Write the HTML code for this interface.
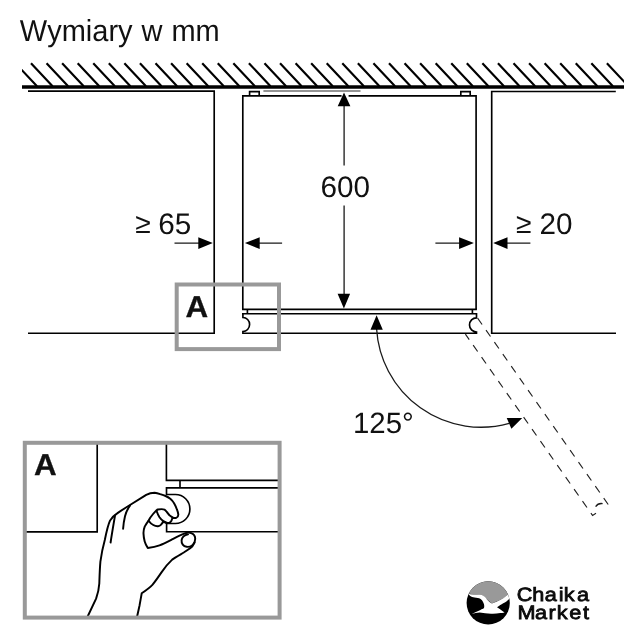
<!DOCTYPE html>
<html lang="pl"><head><meta charset="utf-8"><title>Wymiary w mm</title>
<style>
html,body{margin:0;padding:0;background:#fff;}
body{width:644px;height:640px;overflow:hidden;font-family:"Liberation Sans",sans-serif;}
svg{display:block;will-change:transform;}
text{font-family:"Liberation Sans",sans-serif;fill:#111;text-rendering:geometricPrecision;}
.k{stroke:#000;fill:none;stroke-width:1.65;stroke-linecap:butt;stroke-linejoin:miter;}
.t{stroke:#1a1a1a;fill:none;stroke-width:1.3;}
.d{stroke:#222;fill:none;stroke-width:1.15;stroke-dasharray:7.8 6.85;}
.g{stroke:#999;fill:none;stroke-width:4;}
.h{stroke:#000;fill:none;stroke-width:1.95;stroke-linecap:round;stroke-linejoin:round;}
</style></head><body>
<svg width="644" height="640" viewBox="0 0 644 640">
<rect width="644" height="640" fill="#fff"/>
<text transform="translate(19.8,41) scale(1,1.045)" font-size="29" word-spacing="0.9" style="font-kerning:none">Wymiary w mm</text>

<!-- wall hatch -->
<clipPath id="hc"><rect x="22" y="55" width="602" height="40"/></clipPath>
<path d="M15.44 63.2L37.04 86.3M31.00 63.2L52.60 86.3M46.56 63.2L68.16 86.3M62.13 63.2L83.73 86.3M77.69 63.2L99.29 86.3M93.26 63.2L114.86 86.3M108.83 63.2L130.43 86.3M124.39 63.2L145.99 86.3M139.95 63.2L161.55 86.3M155.52 63.2L177.12 86.3M171.09 63.2L192.69 86.3M186.65 63.2L208.25 86.3M202.22 63.2L223.81 86.3M217.78 63.2L239.38 86.3M233.34 63.2L254.94 86.3M248.91 63.2L270.51 86.3M264.48 63.2L286.08 86.3M280.04 63.2L301.64 86.3M295.61 63.2L317.21 86.3M311.17 63.2L332.77 86.3M326.74 63.2L348.34 86.3M342.30 63.2L363.90 86.3M357.87 63.2L379.47 86.3M373.43 63.2L395.03 86.3M389.00 63.2L410.60 86.3M404.56 63.2L426.16 86.3M420.12 63.2L441.73 86.3M435.69 63.2L457.29 86.3M451.25 63.2L472.86 86.3M466.82 63.2L488.42 86.3M482.38 63.2L503.99 86.3M497.95 63.2L519.55 86.3M513.51 63.2L535.12 86.3M529.08 63.2L550.68 86.3M544.64 63.2L566.25 86.3M560.21 63.2L581.81 86.3M575.77 63.2L597.38 86.3M591.34 63.2L612.94 86.3M606.90 63.2L628.50 86.3" stroke="#000" stroke-width="2.15" fill="none" clip-path="url(#hc)"/>
<path d="M22 87H624" stroke="#000" stroke-width="3.3" fill="none"/>

<!-- left cabinet -->
<path class="k" d="M28 91.1H214.2V333.2H28"/>
<!-- right cabinet -->
<path class="k" d="M615.8 91.5H491.7V333.2H616"/>
<!-- grey wall line behind fridge -->
<path d="M263.4 91H360.5" stroke="#707070" stroke-width="1.5" fill="none"/>

<!-- fridge body -->
<path class="k" d="M242.8 309.4V95.9H341.6M348.6 95.9H476.1V309.4"/>
<path class="k" d="M249.6 95.9V91.6H259.2V95.9M460.8 95.9V91.6H470.2V95.9" stroke-width="1.5"/>
<path class="k" d="M242 309.4H476.9"/>
<path class="k" d="M247.4 309.4V313.8M472.4 309.4V313.8" stroke-width="1.4"/>
<!-- door -->
<path class="k" d="M242.1 313.7H476.6" stroke-width="1.9"/>
<path class="k" stroke-linejoin="round" d="M242.9 313V317.5A6.7 7 0 0 1 242.9 331.5V333.2H476.5V332A7 7.1 0 0 1 476.5 317.8V313"/>

<!-- 600 dimension -->
<path class="t" d="M344.1 104V165.5M344.1 205.6V296"/>
<path d="M344 92.6L350.4 106.2H337.7Z M343.9 308.4L337.6 293.8H350.1Z" fill="#000"/>
<text x="320.4" y="197" font-size="29.7">600</text>

<!-- >=65 dimension -->
<path class="t" d="M174.5 243.1H200M258 243.1H282.1"/>
<path d="M212.8 243.1L198.3 237.2V249Z M244.9 243.1L259.7 237.2V249Z" fill="#000"/>
<text font-size="29.7"><tspan x="135.15" y="233" font-size="28.2">≥</tspan> <tspan x="158.2" y="234">65</tspan></text>

<!-- >=20 dimension -->
<path class="t" d="M435.4 243.1H461M506 243.1H530.4"/>
<path d="M473.9 243.1L459.1 237.2V249Z M493.2 243.1L507.5 237.2V249Z" fill="#000"/>
<text font-size="29.7"><tspan x="515.95" y="233" font-size="28.2">≥</tspan> <tspan x="539.4" y="234">20</tspan></text>

<!-- opened door (dashed) -->
<path class="d" d="M608.2 504.5L477.5 318"/>
<path class="d" stroke-dashoffset="0.8" d="M596 513.3L592.6 515.5L465.4 334.1"/>
<path class="t" d="M595.6 506.6C597.2 504.2 600 503.2 602.6 503.6" stroke-width="1.15"/>

<!-- 125 arc -->
<path class="t" d="M376.6 329A104.7 104.7 0 0 0 509.2 423.4"/>
<path d="M376.6 315.2L370.5 329.7H382.8Z M522.2 418.1L506.7 418.1L511.4 428.7Z" fill="#000"/>
<text x="353" y="433" font-size="29.4">125°</text>

<!-- detail marker A -->
<rect class="g" x="176.7" y="284.5" width="102.3" height="64.6" stroke-width="3.6"/>
<text transform="translate(185.4,317) scale(1.04,1)" font-size="30.2" font-weight="bold" stroke="#111" stroke-width="0.3">A</text>

<!-- inset -->
<g>
<path class="k" stroke-width="1.9" d="M26 531.8H97.2V444"/>
<path class="k" stroke-width="1.9" d="M166.4 444V480.3H279"/>
<path class="k" d="M180 480.2V487.8" stroke-width="1.5"/>
<path class="k" stroke-width="1.9" d="M279 487.9H166.5V494.5H175.4A14.5 14.5 0 0 1 175.4 523.5H166.6V531.7H279"/>
<!-- hand -->
<path class="h" fill="#fff" d="M87.4 617 L96.1 598.7 C98.6 592 99 588 99.3 583.5 C99.6 575 99.8 568 100.4 561.7 C101.6 553 103.4 545 104.8 540 C106.6 531 108 525 110 520.6 C112 517 114.6 515 117.5 513.1 C121.6 510.2 125.8 507.6 130 505 L146.2 494.8 C148.6 493.6 151.4 492.8 154.7 492.7 C156.6 492.8 158.4 493.4 160.2 494.1 C162 494.7 163.8 495.3 165.6 496 C167.4 496.8 168.9 497.7 170.3 498.75 C171.9 500.1 173.2 501.7 174.2 503.4 C175.4 505.4 176.3 507.5 177 509.7 C177.6 511.2 178.1 512.8 178.3 514.4 C178.4 516 177.5 517.4 176.2 517.9 C175 518.3 173.8 518 172.7 517.6 C172.3 518.7 172.1 518.9 172 519.1 C171.8 520.2 171.4 521.2 170.5 521.9 C169.6 522.6 168.4 523 167.3 523 C166.4 523 165.6 522.7 165 522.3 C164.2 522 163.4 521.9 162.7 521.9 C162.4 523 161.9 523.9 161.1 524.6 C160.2 525.6 159.2 526.1 158 526.2 C156.2 526.3 154.6 525.8 153.3 525 C151.4 523.9 149.8 522.4 148.6 520.7 C147.2 522.6 145.8 524.6 144.7 526.6 C143.8 528.8 143.4 531.2 143.5 533.6 C143.6 536.2 144 538.8 144.7 541.4 C145.4 543.8 146.6 546 147.8 548 C151.8 547.4 155.8 546.6 159.5 545.3 C163.6 543.8 167.4 541.8 171.25 539.8 C174.4 538.2 177.4 536.6 180.6 535.2 C182.6 534.2 184.8 533.4 186.9 532.8 C188.4 532.5 189.9 532.6 191.2 533.1 C193.6 534 195.2 536.2 195.2 538.8 C195.2 541.6 194.2 544.2 192.5 546.2 C190 548.6 187 550.4 183.8 552.5 C179.6 555 175.6 557.2 172.2 559.6 C168 563.4 164.4 568 161.3 572.6 C158.4 576.8 155.6 581 152.6 584.6 C149.4 588 145.4 590.8 141.7 593.3 L139.6 605.2 L137 617 Z"/>
<!-- finger details -->
<path class="h" d="M172.7 517.6C171.6 516.8 170.5 516 169.5 515.2C168.5 514.2 167.7 513 166.8 512C166.1 511.1 165.4 510.2 164.5 509.7C163.6 509.3 162.7 509.1 161.7 509.1C160.4 509.1 159.1 509.2 157.8 509.5C157 509.8 156.4 510.3 155.9 510.9C153.6 513.2 151.6 515.8 150.2 517.8C149.6 518.8 149 519.8 148.6 520.7"/>
<path class="h" d="M156.6 511C157.4 513.4 158.4 515.4 159.5 517.2C160.6 518.8 162 520.2 163.4 521.1C164.6 521.9 166 522.6 167.3 523"/>
<path class="h" d="M115 515.6C113.6 524 112 533 110.6 542.5M130 505.6C127.6 508.8 126 512.4 125 516.2C124 520.4 123.4 524.6 123.1 528.8"/>
<!-- thumbnail -->
<path class="h" d="M188 534.4C184.6 535 182 537.2 181.6 540.2C181.2 543.4 183.4 546.4 186.6 546.8C189.8 547.2 193 545.4 194.4 542.4"/>
<rect class="g" x="24.8" y="442.8" width="254.8" height="174.8"/>
</g>
<text transform="translate(34,475) scale(1.04,1)" font-size="30.2" font-weight="bold" stroke="#111" stroke-width="0.3">A</text>

<!-- logo -->
<g>
<circle cx="488.2" cy="602.9" r="21.6" fill="#000"/>
<clipPath id="lc"><circle cx="488.2" cy="602.9" r="21.6"/></clipPath>
<path clip-path="url(#lc)" fill="#999" d="M460 570H520V593.6L508.8 593.6L505 597.5L499.4 600.3L491.9 603.6L485.3 598L481.6 595.2L474 594.6L468 593.6L460 593Z"/>
<path clip-path="url(#lc)" fill="#fff" d="M468.2 593.8C471 594.4 476 594.6 481.6 595C483.8 595.6 485.6 597.6 487 599.4C488.6 601.2 490.4 602.6 491.9 603.6C495 602.4 498 601.2 501 599.6C504 598 506.8 596 509.4 593L511.5 595.5C510.4 598 508.6 600 506.4 601.5C504.4 602.8 502 604 500.3 605C499 605.8 498 606.6 497 607.3C499 608.6 501.6 610.6 504.6 612.4C502.8 612.9 501.6 612.9 500.3 613C497 613.6 494 613.9 491 613.7C487 613.5 483.4 613 479.7 612.5C476.6 612.6 474.4 613.2 471.7 613.9C474.4 612.4 477.4 611.2 480.4 609.9C482 609.2 483.2 608.6 483.9 608.3C484.4 606.6 484.3 605.4 483.9 604.1C483.4 602.6 482.8 601.4 482 600.3C481 599 479.6 598.2 477.8 598C475.6 597.7 473.4 597.5 472.2 597.1C470.6 596.4 469.2 595.2 468.2 593.8Z"/>
<text x="460.05 474.07 485.17 497.52 502.11 513.89" y="601" font-size="19.3" transform="scale(1.123,1)" fill="#000" stroke="#000" stroke-width="0.75">Chaika</text>
<text x="460.87 476.36 488.53 495.7 506.94 519.24" y="619.3" font-size="19.3" transform="scale(1.123,1)" fill="#000" stroke="#000" stroke-width="0.75">Market</text>
</g>
</svg>
</body></html>
